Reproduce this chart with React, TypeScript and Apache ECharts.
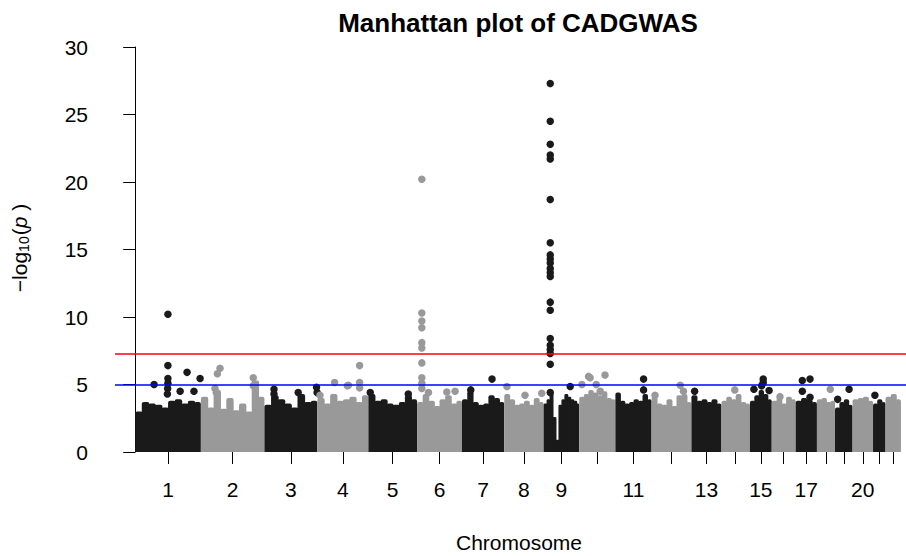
import React, { useEffect, useRef } from "react";
import * as echarts from "echarts";

// ---- data ----
const chromosomes = [1, 2, 3, 4, 5, 6, 7, 8, 9, 10, 11, 12, 13, 14, 15, 16, 17, 18, 19, 20, 21, 22];
const chrSpanMb = [247, 239, 199, 192, 183, 169, 159, 148, 134, 136, 136, 150, 113, 107, 82, 90, 80, 68, 66, 77, 47, 58];
const labeledChr = [1, 2, 3, 4, 5, 6, 7, 8, 9, 11, 13, 15, 17, 20];
const yTicks = [0, 5, 10, 15, 20, 25, 30];
const suggestiveLine = 5;
const genomeWideLine = 7.3;

// upper envelope of the dense cloud of SNPs, per chromosome (-log10 p), left to right
const bandTop = [
  [3.0, 3.7, 3.6, 3.5, 3.3, 3.8, 3.9, 3.6, 3.8, 3.7],
  [4.1, 3.3, 4.6, 3.2, 4.0, 3.1, 3.6, 3.0, 5.3, 4.1],
  [3.5, 4.2, 3.9, 3.6, 3.3, 4.3, 3.7, 3.8],
  [4.0, 3.6, 4.3, 3.8, 3.9, 4.1, 3.7, 4.2],
  [4.3, 3.8, 3.9, 3.6, 3.5, 3.7, 4.2, 3.9],
  [3.7, 4.3, 3.8, 3.4, 3.9, 4.2, 3.6, 3.8],
  [3.9, 4.5, 3.7, 3.5, 3.6, 4.2, 4.0, 3.7],
  [4.3, 3.9, 3.5, 3.6, 3.8, 3.5, 4.0, 3.7],
  [3.6, 3.9, 4.4, 2.6, 0.9, 3.5, 3.9, 4.3, 4.1, 3.9, 3.8, 3.6],
  [4.1, 4.3, 4.6, 4.4, 4.2, 4.5, 4.0, 3.9],
  [4.4, 3.8, 3.6, 3.7, 3.9, 3.8, 4.3, 3.9],
  [4.1, 3.6, 3.5, 3.9, 3.4, 4.2, 4.3, 3.7],
  [4.2, 3.8, 3.9, 3.7, 3.9, 3.6],
  [3.8, 4.1, 3.9, 4.3, 3.7, 3.6],
  [3.8, 4.2, 4.6, 4.3, 3.9],
  [3.8, 4.0, 3.6, 4.1, 3.9],
  [3.8, 4.0, 3.9, 3.7],
  [3.9, 4.0, 3.7, 3.8],
  [3.3, 3.7, 3.9, 3.5],
  [3.9, 4.0, 4.1, 3.8],
  [3.6, 3.9, 3.7],
  [4.1, 4.3, 3.9],
];

// individual SNPs standing out of the cloud: [chromosome, position (Mb), -log10 p]
const peakSnps: [number, number, number][] = [
  [1, 123, 10.2], [1, 123, 6.4], [1, 123, 5.45], [1, 123, 5.1], [1, 122, 4.7], [1, 121, 4.3],
  [1, 71, 5.0], [1, 195, 5.9], [1, 244, 5.45], [1, 169, 4.5], [1, 221, 4.5],
  [2, 62, 5.8], [2, 72, 6.2], [2, 53, 4.7], [2, 58, 4.4], [2, 197, 5.5], [2, 197, 4.9],
  [3, 36, 4.65], [3, 36, 4.3], [3, 127, 4.4], [3, 196, 4.8], [3, 198, 4.4],
  [4, 10, 4.2], [4, 65, 5.15], [4, 117, 4.95], [4, 159, 6.4], [4, 159, 5.15], [4, 159, 4.75], [4, 113, 4.9],
  [5, 7, 4.4], [5, 150, 4.3],
  [6, 18, 20.2], [6, 18, 10.3], [6, 18, 9.7], [6, 18, 9.2], [6, 18, 8.1], [6, 18, 7.7], [6, 18, 6.6],
  [6, 18, 5.5], [6, 18, 5.1], [6, 18, 4.7], [6, 43, 4.4], [6, 112, 4.45], [6, 143, 4.5],
  [7, 113, 5.4], [7, 33, 4.6],
  [8, 10, 4.85], [8, 78, 4.2], [8, 141, 4.35],
  [9, 25, 27.3], [9, 25, 24.5], [9, 25, 22.8], [9, 25, 22.0], [9, 25, 21.7], [9, 25, 18.7],
  [9, 25, 15.5], [9, 25, 14.6], [9, 25, 14.3], [9, 25, 14.0], [9, 25, 13.6], [9, 25, 13.3],
  [9, 25, 13.0], [9, 25, 11.1], [9, 25, 10.5], [9, 25, 8.4], [9, 25, 7.9], [9, 25, 7.6],
  [9, 25, 7.3], [9, 25, 6.5], [9, 25, 4.4], [9, 100, 4.85],
  [10, 35, 5.6], [10, 10, 5.0], [10, 97, 5.7], [10, 79, 4.5], [10, 41, 5.5], [10, 64, 5.0],
  [11, 106, 5.4], [11, 106, 4.6],
  [12, 108, 4.95], [12, 120, 4.5], [12, 13, 4.2],
  [13, 12, 4.5],
  [14, 50, 4.6],
  [15, 50, 5.4], [15, 50, 5.15], [15, 15, 4.65], [15, 72, 4.55], [15, 44, 4.9],
  [16, 31, 4.1],
  [17, 25, 5.3], [17, 25, 4.5], [17, 54, 5.4], [17, 54, 4.05],
  [18, 50, 4.65],
  [19, 53, 4.65], [19, 10, 3.9],
  [21, 7, 4.2],
];

// ---- derived ----
const DARK = "#1A1A1A";
const LIGHT = "#999999";
const FONT = "'Liberation Sans', Arial, sans-serif";
const chrColor = (chr: number) => (chr % 2 === 1 ? DARK : LIGHT);

const chrStart: number[] = [];
{
  let acc = 0;
  chrSpanMb.forEach((s) => {
    chrStart.push(acc);
    acc += s;
  });
}
const genomeLen = chrSpanMb.reduce((a, b) => a + b, 0);
const chrMid = chromosomes.map((_, i) => chrStart[i] + chrSpanMb[i] / 2);
const labelValues = labeledChr.map((c) => chrMid[c - 1]);

const bandData: number[][] = [];
bandTop.forEach((tops, i) => {
  const n = tops.length;
  tops.forEach((h, k) => {
    const a = chrStart[i] + (chrSpanMb[i] * k) / n;
    const b = chrStart[i] + (chrSpanMb[i] * (k + 1)) / n;
    bandData.push([a, b, h, chromosomes[i], k === n - 1 ? 1 : 0]);
  });
});

const peakData = peakSnps.map(([c, p, v]) => ({
  value: [chrStart[c - 1] + p, v],
  itemStyle: { color: chrColor(c), opacity: 1 },
}));

export default function App() {
  const ref = useRef<HTMLDivElement>(null);
  useEffect(() => {
    const chart = echarts.init(ref.current!, null, { renderer: "svg" });
    const option: any = {
      animation: false,
      backgroundColor: "#ffffff",
      title: {
        text: "Manhattan plot of CADGWAS",
        left: 513,
        top: 5,
        textAlign: "center",
        textStyle: { fontSize: 26, fontWeight: "bold", fontFamily: FONT, color: "#000" },
      },
      grid: { left: 115, right: 0, top: 47, bottom: 104, containLabel: false },
      xAxis: {
        type: "value",
        min: -76,
        max: genomeLen + 19,
        axisLine: { show: false },
        splitLine: { show: false },
        axisTick: { show: true, customValues: chrMid, length: 12, lineStyle: { color: "#000", width: 1 } },
        axisLabel: {
          customValues: labelValues,
          fontSize: 21,
          fontFamily: FONT,
          color: "#000",
          margin: 27,
          formatter: (v: number) => {
            const i = chrMid.findIndex((m) => Math.abs(m - v) < 0.5);
            return i >= 0 ? String(chromosomes[i]) : "";
          },
        },
      },
      yAxis: {
        type: "value",
        min: yTicks[0],
        max: yTicks[yTicks.length - 1],
        interval: 5,
        axisLine: { show: true, lineStyle: { color: "#000", width: 1 } },
        axisTick: { show: true, length: 12, lineStyle: { color: "#000", width: 1 } },
        splitLine: { show: false },
        axisLabel: { fontSize: 21, fontFamily: FONT, color: "#000", margin: 27 },
      },
      graphic: [
        {
          type: "text",
          left: 516 - 60,
          top: 532,
          style: { text: "Chromosome", fontSize: 21, fontFamily: FONT, fill: "#000", width: 120, align: "center" },
        },
        {
          type: "text",
          x: 19,
          y: 248,
          rotation: Math.PI / 2,
          style: {
            text: "{a|\u2212log}{s|10}{a|(}{i|p}{a| )}",
            align: "center",
            verticalAlign: "middle",
            fill: "#000",
            rich: {
              a: { fontSize: 21, fontFamily: FONT, fill: "#000", lineHeight: 24, verticalAlign: "middle" },
              s: { fontSize: 14, fontFamily: FONT, fill: "#000", lineHeight: 24, verticalAlign: "bottom", padding: [8, 1, 0, 0] },
              i: { fontSize: 21, fontFamily: FONT, fontStyle: "italic", fill: "#000", lineHeight: 24, verticalAlign: "middle" },
            },
          },
        },
      ],
      series: [
        {
          type: "custom",
          z: 2,
          data: bandData,
          renderItem: (params: any, api: any) => {
            const p0 = api.coord([api.value(0), 0]);
            const p1 = api.coord([api.value(1), api.value(2)]);
            const w = p1[0] - p0[0];
            const h = p0[1] - p1[1];
            const r = Math.min(2, w / 2, h / 2);
            const extra = api.value(4) === 1 ? 0 : 1;
            return {
              type: "rect",
              shape: { x: p0[0], y: p1[1], width: w + extra, height: h, r: [r, r, 0, 0] },
              style: { fill: chrColor(api.value(3)) },
            };
          },
        },
        {
          type: "scatter",
          z: 3,
          symbol: "circle",
          symbolSize: 7.5,
          itemStyle: { opacity: 1 },
          data: peakData,
          markLine: {
            silent: true,
            symbol: "none",
            label: { show: false },
            z: 5,
            data: [
              { yAxis: genomeWideLine, lineStyle: { color: "#FF0000", width: 1.5, type: "solid" } },
              { yAxis: suggestiveLine, lineStyle: { color: "#0000FF", width: 1.5, type: "solid" } },
            ],
          },
        },
      ],
    };
    chart.setOption(option);
    return () => chart.dispose();
  }, []);
  return <div ref={ref} style={{ position: "fixed", left: 0, top: 0, width: 906, height: 556 }} />;
}
